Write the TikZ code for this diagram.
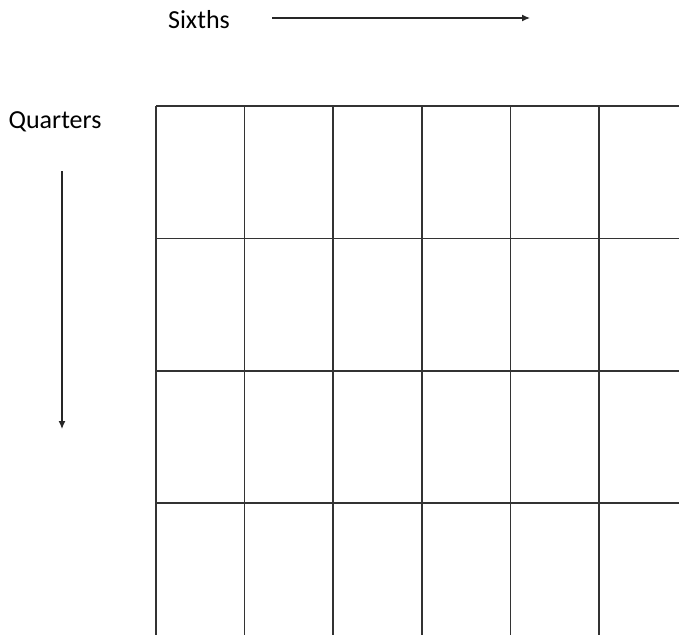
\documentclass[tikz,border=0pt]{standalone}
\usepackage{fontspec}
\setmainfont{Carlito}
\usetikzlibrary{positioning, arrows.meta}

\begin{document}
\begin{tikzpicture}[
    x=1pt, y=-1pt,
    lbl/.style={font=\fontsize{26}{30}\selectfont, text=black, inner sep=0pt},
    gridline/.style={line width=1.5pt, draw=black!80},
    direction/.style={-{Latex[length=8pt, width=7pt]}, line width=1.2pt, draw=black!85}
]
\useasboundingbox (0,0) rectangle (679,634);
\clip (0,0) rectangle (679,634);

\node[lbl] (sixths) at (199,20) {Sixths};
\node[lbl] (quarters) at (55,122) {Quarters};

\coordinate (s0) at (272,18);
\coordinate (s1) at (530,18);
\coordinate (q0) at (62,171);
\coordinate (q1) at (62,429);

\draw[direction] (s0) -- (s1);
\draw[direction] (q0) -- (q1);

% six columns, four rows, cut off at the right and bottom
\foreach \i in {0,...,6}
    \draw[gridline] (156+\i*88.6,106) -- (156+\i*88.6,640);
\foreach \j in {0,...,4}
    \draw[gridline] (156,106+\j*132.4) -- (690,106+\j*132.4);

\end{tikzpicture}
\end{document}
